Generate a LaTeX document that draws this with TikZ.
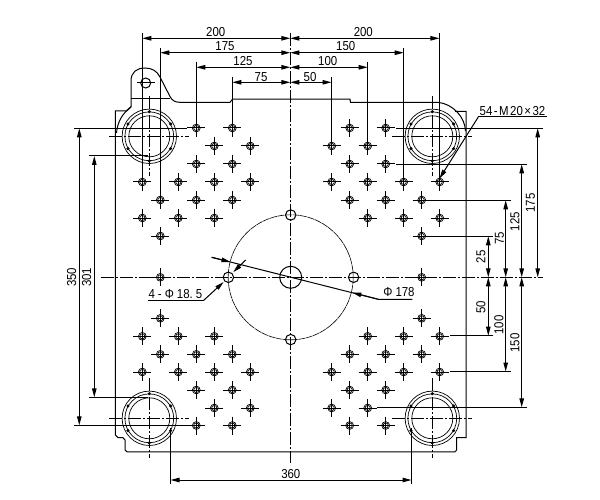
\documentclass[tikz,border=0pt]{standalone}
\usepackage{fontspec}
\setmainfont{Liberation Sans}
\newfontfamily\cadfont[FakeStretch=0.88]{Liberation Sans}
\usetikzlibrary{arrows.meta}
\tikzset{
  ln/.style={line width=1pt,black},
  thin ln/.style={line width=0.7pt,black},
  ctr/.style={line width=1pt,black,dash pattern=on 13pt off 2pt on 2pt off 2pt},
  dimln/.style={line width=1pt,black,{Triangle[length=9pt,width=4.5pt]}-{Triangle[length=9pt,width=4.5pt]}},
  tipend/.style={line width=1pt,black,-{Triangle[length=9pt,width=4.5pt]}},
  lbl/.style={inner sep=0pt,outer sep=0pt,font=\cadfont\fontsize{13}{13}\selectfont,text=black},
  vlbl/.style={lbl,rotate=90},
  bolt/.style={fill=black,draw=none}
}
\newcommand{\threadhole}[2]{%
  \draw[thin ln] (#1,#2) circle[radius=3.9];
  \draw[thin ln] (#1,#2) circle[radius=2.6];
  \draw[ln] (#1-9,#2) -- (#1+9,#2);
  \draw[ln] (#1,#2-9) -- (#1,#2+9);
}
\newcommand{\pillar}[2]{%
  \draw[thin ln] (#1,#2) circle[radius=27.2];
  \draw[thin ln] (#1,#2) circle[radius=24.4];
  \draw[thin ln] (#1,#2) circle[radius=20.5];
  \foreach \a in {30,90,150,210,270,330}
    \fill[bolt] (#1,#2) ++(\a:24.6) circle[radius=1.7];
  \draw[ctr] (#1-40,#2) -- (#1+40,#2);
  \draw[ctr] (#1,#2-40) -- (#1,#2+40);
}
\begin{document}
\begin{tikzpicture}[x=1pt,y=-1pt]
\useasboundingbox (0,0) rectangle (600,500);
% plate outline
\draw[ln] (131,99) -- (131,81) .. controls (131,72) and (137,68) .. (145,68)
  .. controls (152,68) and (157,71) .. (160,77) -- (170,96.5)
  .. controls (172,100.5) and (175,102.3) .. (180,102.3) -- (230,102.3) -- (232.5,99.2)
  -- (350,99.2) -- (350.5,102.3) -- (438,102.3);
\draw[ln] (438,102.3) .. controls (453,104) and (465,117) .. (465.5,131);
\draw[ln] (455,111.5) -- (466,111.5) -- (466,437.7) -- (456.7,437.7) -- (456.7,450)
  -- (455,451.8) -- (127,451.8) -- (125,450) -- (125,440) -- (123,437.7) -- (118,437.7)
  -- (115.3,435) -- (115.3,111) -- (126.7,111);
\draw[ln] (131,99) -- (131,107) -- (126.7,111);
\draw[ln] (131,99) -- (170,99);
\draw[ln] (116.5,133) .. controls (117.5,122) and (122,114) .. (131,106.7);
% tie-bar bosses
\pillar{149.3}{136.3}
\pillar{432.3}{136.3}
\pillar{149.3}{418.3}
\pillar{432.3}{418.3}
% lug hole
\draw[ln] (145.7,83) circle[radius=5];
\draw[ln] (137,83) -- (155,83);
% threaded holes
\foreach \x/\y in {196.3/128,232.3/128,214.3/146,250.3/146,196.3/164,232.3/164,
  142.3/182,178.3/182,214.3/182,250.3/182,160.3/200,196.3/200,232.3/200,
  142.3/218,178.3/218,214.3/218,160.3/236,160.3/277.3,
  349.7/128,385.7/128,331.7/146,367.7/146,349.7/164,385.7/164,
  331.7/182,367.7/182,403.7/182,439.7/182,349.7/200,385.7/200,421.7/200,
  367.7/218,403.7/218,439.7/218,421.7/236,421.7/277.3,
  160.3/318.3,142.3/336.3,178.3/336.3,214.3/336.3,160.3/354.3,196.3/354.3,232.3/354.3,
  142.3/372,178.3/372,214.3/372,250.3/372,196.3/390,232.3/390,214.3/408,250.3/408,196.3/425.5,232.3/425.5,
  421.7/318.3,367.7/336.3,403.7/336.3,439.7/336.3,349.7/354.3,385.7/354.3,421.7/354.3,
  331.7/372,367.7/372,403.7/372,439.7/372,349.7/390,385.7/390,331.7/408,367.7/408,349.7/425.5,385.7/425.5}
  {\threadhole{\x}{\y}}
% central pattern
\draw[line width=0.6pt,black,dash pattern=on 7pt off 0.6pt] (290.7,277.3) circle[radius=62.5];
\draw[ln] (290.7,277.3) circle[radius=11];
\draw[ln] (290.7,215) circle[radius=5.2];
\draw[ln] (290.7,339.6) circle[radius=5.2];
\draw[ln] (228.4,277.3) circle[radius=5.2];
\draw[ln] (353.6,277.3) circle[radius=5.2];
% centre lines
\draw[ctr] (100.7,277.3) -- (543,277.3);
\draw[ctr] (290.3,33) -- (290.3,463);
% extension lines (top)
\draw[ln] (142.3,33) -- (142.3,173);
\draw[ln] (160.3,48) -- (160.3,191);
\draw[ln] (196.3,62) -- (196.3,119);
\draw[ln] (232.3,77) -- (232.3,119);
\draw[ln] (331.5,77) -- (331.5,137);
\draw[ln] (367.7,62) -- (367.7,137);
\draw[ln] (403.7,48) -- (403.7,173);
\draw[ln] (439.4,33) -- (439.4,173);
% top dimensions
\draw[dimln] (142.3,38.3) -- (290.3,38.3);
\draw[dimln] (290.3,38.3) -- (439.4,38.3);
\draw[dimln] (160.3,52.7) -- (290.3,52.7);
\draw[dimln] (290.3,52.7) -- (403.7,52.7);
\draw[dimln] (196.3,67.3) -- (290.3,67.3);
\draw[dimln] (290.3,67.3) -- (367.7,67.3);
\draw[dimln] (232.3,82.3) -- (290.3,82.3);
\draw[dimln] (290.3,82.3) -- (331.5,82.3);
\node[lbl] (t200l) at (215.7,31.7) {200};
\node[lbl] (t175) at (225,46) {175};
\node[lbl] (t125) at (243,60.7) {125};
\node[lbl] (t75) at (261,76.7) {75};
\node[lbl] (t200r) at (363.3,31.7) {200};
\node[lbl] (t150) at (345.7,46) {150};
\node[lbl] (t100) at (327.7,60.7) {100};
\node[lbl] (t50) at (310,76.7) {50};
% right extension lines
\draw[ln] (396,128.3) -- (543,128.3);
\draw[ln] (396,164.3) -- (526.7,164.3);
\draw[ln] (431,200.3) -- (510.7,200.3);
\draw[ln] (431,236.3) -- (493,236.3);
\draw[ln] (450,335.7) -- (493,335.7);
\draw[ln] (450,371.5) -- (510.7,371.5);
\draw[ln] (377,407.3) -- (526.7,407.3);
% right dimensions
\draw[dimln] (537.7,128.3) -- (537.7,277.3);
\draw[dimln] (521.7,164.3) -- (521.7,277.3);
\draw[dimln] (505.7,200.3) -- (505.7,277.3);
\draw[dimln] (488.3,236.3) -- (488.3,277.3);
\draw[dimln] (488.3,277.3) -- (488.3,335.7);
\draw[dimln] (505.7,277.3) -- (505.7,371.5);
\draw[dimln] (521.7,277.3) -- (521.7,407.3);
\node[vlbl] (r175) at (530.5,203) {175};
\node[vlbl] (r125) at (515,221.7) {125};
\node[vlbl] (r75) at (499.5,238.3) {75};
\node[vlbl] (r25) at (481,256.7) {25};
\node[vlbl] (r50) at (481,307) {50};
\node[vlbl] (r100) at (499,325) {100};
\node[vlbl] (r150) at (515,343) {150};
% left dimensions
\draw[ln] (74,128.3) -- (186.7,128.3);
\draw[ln] (74,425.3) -- (186.7,425.3);
\draw[ln] (89.3,156) -- (148,156);
\draw[ln] (89.3,397.3) -- (148,397.3);
\draw[dimln] (79.3,128.3) -- (79.3,425.3);
\draw[dimln] (94.3,156) -- (94.3,397.3);
\node[vlbl] (l350) at (71.7,277.3) {350};
\node[vlbl] (l301) at (86.7,277.3) {301};
% bottom dimension
\draw[ln] (170.5,428) -- (170.5,484);
\draw[ln] (411.5,428) -- (411.5,484);
\draw[dimln] (170.5,480) -- (411.5,480);
\node[lbl] (b360) at (290.8,474) {360};
% phi 178
\coordinate (pa) at (211.7,257.3);
\coordinate (pb) at (378.3,299.3);
\coordinate (pc) at (412.3,299.3);
\coordinate (pt1) at (230.5,262);
\coordinate (pt2) at (352.3,292.6);
\draw[ln] (pa) -- (pb) -- (pc);
\draw[tipend] (pa) -- (pt1);
\draw[tipend] (pb) -- (pt2);
\node[lbl] (phi) at (399,292.3) {Φ\kern3pt 178};
% 4-phi 18.5
\coordinate (qa) at (147.7,300.7);
\coordinate (qb) at (203.3,300.7);
\coordinate (qt) at (223.6,282);
\coordinate (qc) at (245.7,260);
\coordinate (qd) at (233.2,272.2);
\draw[ln] (qa) -- (qb);
\draw[tipend] (qb) -- (qt);
\draw[tipend] (qc) -- (qd);
\node[lbl] (hole) at (175.4,294) {4\kern3pt-\kern3ptΦ\kern3pt 18.\kern3pt 5};
% 54-M20x32
\coordinate (ma) at (546.7,117);
\coordinate (mb) at (478.3,117);
\coordinate (mt) at (439.5,178.5);
\draw[ln] (ma) -- (mb);
\draw[tipend] (mb) -- (mt);
\node[lbl] (thread) at (512.5,111) {54\kern1.5pt-\kern1.5pt M\kern1.5pt 20\kern1.5pt ×\kern1.5pt 32};
\end{tikzpicture}
\end{document}
